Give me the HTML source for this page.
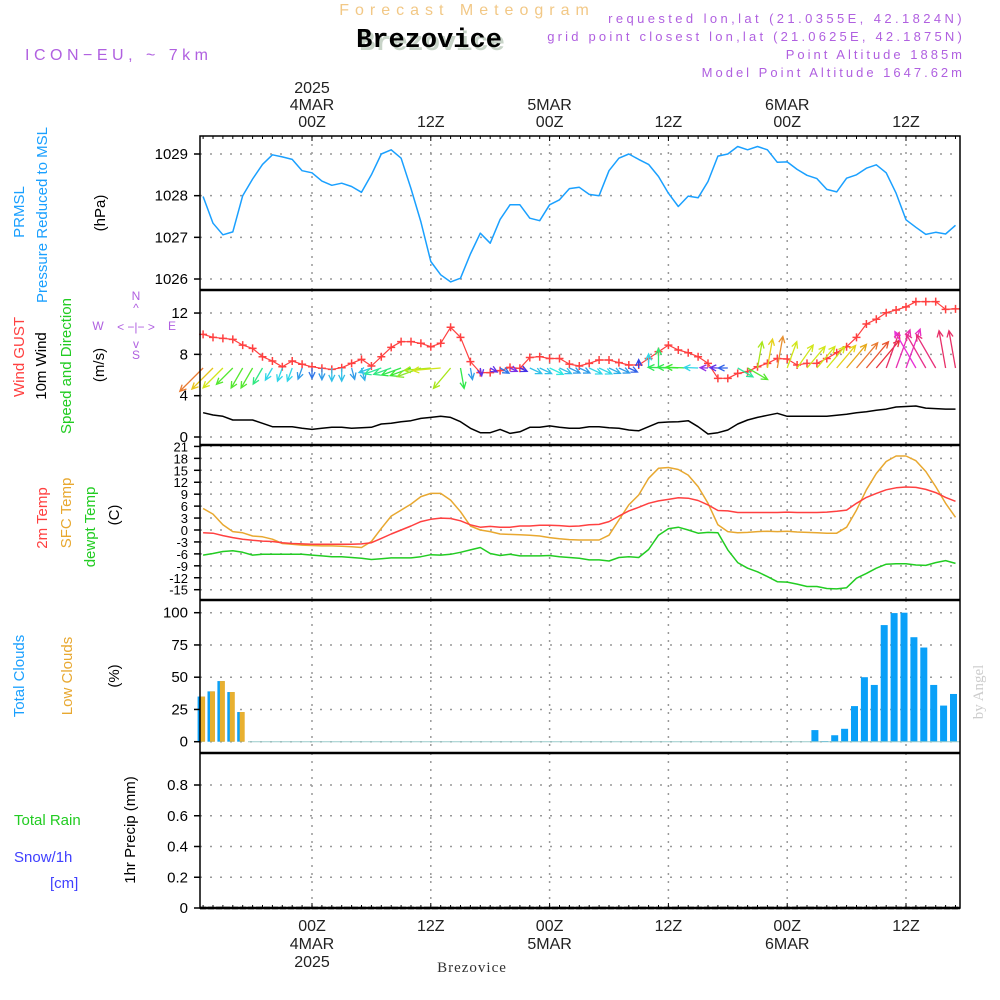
<!DOCTYPE html>
<html><head><meta charset="utf-8"><style>
body{margin:0;background:#fff;width:1000px;height:1000px;overflow:hidden}
svg{display:block;font-family:"Liberation Sans",sans-serif}
</style></head><body>
<svg id="chart" width="1000" height="1000" viewBox="0 0 1000 1000">
<g>
<text x="467" y="15" font-size="16" fill="#f2c886" text-anchor="middle" letter-spacing="6">Forecast Meteogram</text>
<text x="432" y="50" font-size="27" font-weight="bold" font-family="Liberation Mono,monospace" fill="#c8d4c8" text-anchor="middle">Brezovice</text>
<text x="429" y="47" font-size="27" font-weight="bold" font-family="Liberation Mono,monospace" fill="#000" text-anchor="middle">Brezovice</text>
<text x="25" y="60" font-size="16" fill="#b060e0" letter-spacing="4.5">ICON−EU, ~ 7km</text>
<text x="965" y="23" font-size="13" fill="#b060e0" text-anchor="end" letter-spacing="3.4">requested lon,lat (21.0355E, 42.1824N)</text>
<text x="965" y="41" font-size="13" fill="#b060e0" text-anchor="end" letter-spacing="3.2">grid point closest lon,lat (21.0625E, 42.1875N)</text>
<text x="965" y="59" font-size="13" fill="#b060e0" text-anchor="end" letter-spacing="3">Point Altitude 1885m</text>
<text x="965" y="77" font-size="13" fill="#b060e0" text-anchor="end" letter-spacing="3">Model Point Altitude 1647.62m</text>
<text x="472" y="972" font-size="15" font-family="Liberation Serif,serif" fill="#333" text-anchor="middle" letter-spacing="1">Brezovice</text>
<text transform="translate(983,692) rotate(-90)" font-size="15" font-family="Liberation Serif,serif" fill="#ccc" text-anchor="middle">by Angel</text>
</g>
<g id="labels" font-size="15">
<text transform="translate(24,212) rotate(-90)" fill="#1aa0ff" text-anchor="middle">PRMSL</text>
<text transform="translate(47,215) rotate(-90)" fill="#1aa0ff" text-anchor="middle">Pressure Reduced to MSL</text>
<text transform="translate(105,213) rotate(-90)" fill="#000" text-anchor="middle">(hPa)</text>
<text transform="translate(24,357) rotate(-90)" fill="#ff4040" text-anchor="middle">Wind GUST</text>
<text transform="translate(46,366) rotate(-90)" fill="#000" text-anchor="middle">10m Wind</text>
<text transform="translate(71,366) rotate(-90)" fill="#22cc22" text-anchor="middle">Speed and Direction</text>
<text transform="translate(104,365) rotate(-90)" fill="#000" text-anchor="middle">(m/s)</text>
<text transform="translate(47,518) rotate(-90)" fill="#ff4040" text-anchor="middle">2m Temp</text>
<text transform="translate(71,513) rotate(-90)" fill="#e8a830" text-anchor="middle">SFC Temp</text>
<text transform="translate(95,527) rotate(-90)" fill="#22cc22" text-anchor="middle">dewpt Temp</text>
<text transform="translate(119,515) rotate(-90)" fill="#000" text-anchor="middle">(C)</text>
<text transform="translate(24,676) rotate(-90)" fill="#1aa0ff" text-anchor="middle">Total Clouds</text>
<text transform="translate(72,676) rotate(-90)" fill="#e8a830" text-anchor="middle">Low Clouds</text>
<text transform="translate(119,676) rotate(-90)" fill="#000" text-anchor="middle">(%)</text>
<text x="14" y="825" fill="#22cc22">Total  Rain</text>
<text x="14" y="862" fill="#4040ff">Snow/1h</text>
<text x="50" y="888" fill="#4040ff">[cm]</text>
<text transform="translate(135,830) rotate(-90)" fill="#000" text-anchor="middle">1hr Precip (mm)</text>
<g fill="#b060e0" font-size="12" text-anchor="middle">
<text x="136" y="300">N</text><text x="136" y="312">^</text><text x="136" y="331">&lt; −|− &gt;</text><text x="98" y="330">W</text><text x="172" y="330">E</text><text x="136" y="348">v</text><text x="136" y="359">S</text>
</g>
</g>
<g id="grid"></g>
<g id="marks"></g>
<g id="frame"></g>
</svg>
<script>
const hours = [];
for (let h = -11; h <= 65; h++) hours.push(h);
const pressure = [1027.98,1027.34,1027.06,1027.13,1028.0,1028.4,1028.75,1028.98,1028.93,1028.87,1028.6,1028.55,1028.35,1028.25,1028.3,1028.22,1028.08,1028.5,1029.0,1029.1,1028.9,1028.17,1027.37,1026.42,1026.1,1025.93,1026.02,1026.6,1027.1,1026.86,1027.43,1027.78,1027.78,1027.46,1027.4,1027.78,1027.9,1028.17,1028.2,1028.03,
1028.0,1028.6,1028.9,1029.0,1028.87,1028.75,1028.46,1028.06,1027.74,1027.99,1027.95,1028.34,1028.95,1029.0,1029.18,1029.1,1029.18,1029.1,1028.8,1028.81,1028.63,1028.49,1028.41,1028.15,1028.09,1028.42,1028.5,1028.66,1028.74,1028.55,1028.06,1027.42,1027.24,1027.07,1027.12,1027.08,1027.29];
const gust = [9.94,9.65,9.55,9.45,8.9,8.58,7.77,7.36,6.8,7.36,7.04,6.8,6.65,6.55,6.7,7.13,7.52,6.87,7.77,8.68,9.23,9.23,9.07,8.74,9.07,10.62,9.65,7.3,6.23,6.23,6.42,6.74,6.65,7.7,7.77,7.6,7.6,7.06,6.87,7.13,
7.45,7.45,7.2,6.97,6.97,7.6,8.26,8.9,8.42,8.16,7.77,7.13,5.68,5.68,6.16,6.33,6.8,7.13,7.6,7.55,6.97,7.13,7.13,7.6,8.16,8.74,9.65,10.94,11.4,12.03,12.29,12.6,13.1,13.1,13.1,12.36,12.4];
const wind = [2.35,2.13,2.0,1.65,1.65,1.65,1.33,1.0,1.0,1.0,0.84,0.74,0.84,0.94,0.94,0.84,0.9,0.94,1.26,1.33,1.48,1.58,1.8,1.9,2.0,1.9,1.48,0.84,0.42,0.42,0.74,0.35,0.5,0.94,0.94,1.07,0.94,0.84,0.84,1.0,
1.0,0.9,0.84,0.68,0.6,1.0,1.39,1.45,1.48,1.58,1.0,0.29,0.42,0.68,1.26,1.65,1.9,2.1,2.29,2.0,2.0,2.0,2.0,2.0,2.1,2.2,2.35,2.45,2.58,2.7,2.9,2.95,3.0,2.8,2.75,2.7,2.7];
const windDir = [225,225,225,225,210,210,210,210,200,200,200,180,180,180,180,165,165,250,250,250,250,250,250,265,265,220,170,170,170,120,120,115,115,115,115,115,115,115,115,115,115,115,115,115,0,0,0,272,272,272,272,272,272,270,120,120,10,10,10,20,35,40,40,40,40,40,40,40,40,20,20,20,330,330,330,350,350];
const temp2m = [-0.7,-0.8,-1.4,-1.9,-2.3,-2.6,-2.8,-2.9,-3.2,-3.4,-3.5,-3.6,-3.6,-3.6,-3.6,-3.6,-3.5,-3.2,-2.1,-1.0,0,1.0,2.1,2.7,3.0,2.9,2.3,1.3,0.7,0.9,0.7,0.7,1.0,1.0,1.2,1.2,1.1,0.9,1.0,1.3,
1.4,2.1,3.5,4.8,5.7,6.7,7.3,7.7,8.1,8.0,7.4,6.3,4.9,4.8,4.4,4.4,4.4,4.4,4.4,4.5,4.4,4.4,4.4,4.5,4.7,5.0,6.7,8.2,9.2,10.1,10.6,10.8,10.7,10.2,9.4,8.2,7.2];
const sfcTemp = [5.4,4.0,1.3,-0.4,-0.7,-1.5,-1.7,-2.3,-3.4,-3.6,-3.8,-3.9,-4.0,-4.0,-4.1,-4.2,-4.4,-2.9,0.4,3.5,5.0,6.5,8.4,9.2,9.2,7.5,4.6,1.0,0,-0.4,-1.0,-1.1,-1.2,-1.3,-1.5,-1.9,-2.2,-2.4,-2.5,-2.5,
-2.5,-1.3,2.5,6.3,8.8,13.0,15.5,15.7,15.2,13.8,10.9,6.7,1.3,-0.4,-0.7,-0.6,-0.4,-0.3,-0.4,-0.3,-0.5,-0.6,-0.7,-0.8,-0.8,0.7,5.0,10.1,14.2,17.2,18.6,18.6,17.4,14.7,10.9,6.7,3.2];
const dewpt = [-6.3,-5.9,-5.4,-5.2,-5.6,-6.3,-6.1,-6.1,-6.1,-6.1,-6.1,-6.3,-6.5,-6.7,-6.7,-6.9,-7.1,-7.4,-7.2,-7.0,-7.0,-7.0,-6.7,-6.2,-6.3,-6.1,-5.6,-5.0,-4.4,-5.9,-6.4,-6.1,-6.5,-6.5,-6.5,-6.4,-6.7,-6.9,-7.1,-7.5,
-7.5,-7.8,-6.9,-6.7,-6.9,-4.9,-1.3,0.3,0.7,0,-0.8,-0.6,-0.7,-5.0,-8.2,-9.6,-10.5,-11.7,-13.0,-13.1,-13.6,-14.2,-14.2,-14.7,-14.8,-14.5,-12.1,-10.9,-9.6,-8.6,-8.5,-8.5,-8.8,-8.9,-8.2,-7.7,-8.4];
const cloudHours = [-11,-10,-9,-8,-7,51,52,53,54,55,56,57,58,59,60,61,62,63,64,65];
const totalClouds = [35,39,47,38.5,23,9,0.5,5,10,27.6,50,44,90.4,99.7,100,81,73,44,28,37];
const lowClouds = [35,39,47,38.5,23,0,0,0,0,0,0,0,0,0,0,0,0,0,0,0];
const precip = new Array(77).fill(0);
const pTicks = [1026,1027,1028,1029];
const wTicks = [0,4,8,12];
const tTicks = [-15,-12,-9,-6,-3,0,3,6,9,12,15,18,21];
const cTicks = [0,25,50,75,100];
const rTicks = [0,0.2,0.4,0.6,0.8];
const rLabels = ["0","0.2","0.4","0.6","0.8"];
const dayHours = [0,24,48];
const dayLabels = ["4MAR","5MAR","6MAR"];

const NS='http://www.w3.org/2000/svg';
const L=200,R=960;
const xS=h=>312+h*9.9;
const yP=v=>154+(1029-v)*41.67;
const yW=v=>437-v*10.33;
const yT=v=>530-v*3.98;
const yC=v=>741.7-v*1.29;
const yR=v=>908-v*153.75;
const grid=document.getElementById('grid'),marks=document.getElementById('marks'),frame=document.getElementById('frame');
function el(tag,attrs,parent){const e=document.createElementNS(NS,tag);for(const k in attrs)e.setAttribute(k,attrs[k]);parent.appendChild(e);return e;}
function txt(s,attrs,parent){const e=el('text',attrs,parent);e.textContent=s;return e;}

const panels=[{t:136,b:290,ticks:pTicks,y:yP,lab:v=>String(v),name:'pressure'},
{t:290,b:445,ticks:wTicks,y:yW,lab:v=>String(v),name:'wind'},
{t:445,b:600,ticks:tTicks,y:yT,lab:v=>String(v),name:'temp'},
{t:600,b:753,ticks:cTicks,y:yC,lab:v=>String(v),name:'clouds'},
{t:753,b:908,ticks:rTicks,y:yR,lab:(v,i)=>rLabels[i],name:'precip'}];
panels.forEach(p=>{
 p.ticks.forEach((v,i)=>{
  const y=p.y(v);
  const g=el('line',{x1:L,x2:R,y1:y,y2:y,stroke:'#999','stroke-dasharray':'2 8','stroke-width':1.5},grid);
  
  
  el('line',{x1:L-6,x2:L,y1:y,y2:y,stroke:'#000','stroke-width':1.5},frame);
  const t=txt(p.lab(v,i),{x:L-12,y:y+5,'font-size':p.name==='temp'?13:15,'text-anchor':'end',fill:'#000'},frame);
  
  
 });
 for(let h=0;h<=60;h+=12){
  const x=xS(h);
  const g=el('line',{x1:x,x2:x,y1:p.t,y2:p.b,stroke:'#999','stroke-dasharray':'2 6','stroke-width':1.5},grid);
  
  
 }
});
el('rect',{x:L,y:136,width:R-L,height:772,fill:'none',stroke:'#000','stroke-width':1.5},frame);
[290,445,600,753,908].forEach(y=>el('line',{x1:L,x2:R,y1:y,y2:y,stroke:'#000','stroke-width':2.5},frame));
for(let h=-11;h<=65;h++){const x=xS(h);const big=h%12===0;
 el('line',{x1:x,x2:x,y1:136,y2:136+(big?5:3),stroke:'#000'},frame);
 el('line',{x1:x,x2:x,y1:908,y2:908-(big?5:3),stroke:'#000'},frame);}
for(let h=0;h<=60;h+=12){const x=xS(h);const lab=(h%24===0)?'00Z':'12Z';
 const a=txt(lab,{x:x,y:127,'font-size':16,'text-anchor':'middle',fill:'#222'},frame);
 
 
 const b=txt(lab,{x:x,y:931,'font-size':16,'text-anchor':'middle',fill:'#222'},frame);
 
 }
dayHours.forEach((h,i)=>{const x=xS(h);
 const a=txt(dayLabels[i],{x:x,y:110,'font-size':16,'text-anchor':'middle',fill:'#222'},frame);
 
 
 const b=txt(dayLabels[i],{x:x,y:949,'font-size':16,'text-anchor':'middle',fill:'#222'},frame);
 
 });
const y1=txt('2025',{x:xS(0),y:93,'font-size':16,'text-anchor':'middle',fill:'#222'},frame);


const y2=txt('2025',{x:xS(0),y:967,'font-size':16,'text-anchor':'middle',fill:'#222'},frame);



function line(vals,yf,color,name,w){
 const d=vals.map((v,i)=>(i?'L':'M')+xS(hours[i]).toFixed(1)+','+yf(v).toFixed(1)).join('');
 const p=el('path',{d:d,fill:'none',stroke:color,'stroke-width':w||1.5,'stroke-linejoin':'round'},marks);
 
 
 return p;}
line(pressure,yP,'#1aa0ff','pressure-line');
line(wind,yW,'#000','wind-speed-line');
line(gust,yW,'#ff4040','gust-line',1.2);
gust.forEach((v,i)=>{const x=xS(hours[i]),y=yW(v);
 const m=el('path',{d:`M${x-4},${y}H${x+4}M${x},${y-4}V${y+4}`,stroke:'#ff4040','stroke-width':1.5},marks);
 
 });
wind.forEach((s,i)=>{
 const x=xS(hours[i]),y=368;
 const a=windDir[i]*Math.PI/180,len=Math.max(8,s*14);
 const x2=x+Math.sin(a)*len,y2=y-Math.cos(a)*len;
 let hue=270-(s-0.3)*120; if(hue<0)hue+=360;
 const c=`hsl(${hue},80%,${hue>40&&hue<90?50:55}%)`;
 const b1=a+Math.PI-0.45,b2=a+Math.PI+0.45;
 const d=`M${x},${y}L${x2},${y2}M${x2+Math.sin(b1)*7},${y2-Math.cos(b1)*7}L${x2},${y2}L${x2+Math.sin(b2)*7},${y2-Math.cos(b2)*7}`;
 const p=el('path',{d:d,fill:'none',stroke:c,'stroke-width':1.3},marks);
 
 });
line(sfcTemp,yT,'#e8a830','sfc-temp-line');
line(temp2m,yT,'#ff4040','temp-2m-line');
line(dewpt,yT,'#22cc22','dewpoint-line');
cloudHours.forEach((h,i)=>{const x=xS(h)-2;
 const tv=totalClouds[i],lv=lowClouds[i];
 const b=el('rect',{x:x-3.5,y:yC(tv),width:7,height:yC(0)-yC(tv),fill:'#0aa0f8'},marks);
 
 
 if(lv>0){const o=el('rect',{x:x-1,y:yC(lv),width:5,height:yC(0)-yC(lv),fill:'#e8b030'},marks);
 
 }});
el('line',{x1:248,x2:R,y1:yC(0),y2:yC(0),stroke:'#9cc',"stroke-width":1},marks);
line(precip,yR,'#22cc22','precip-line',1);
el('line',{x1:L,x2:R,y1:908,y2:908,stroke:'#000','stroke-width':2.5,'stroke-dasharray':'6 2'},frame);
</script>
</body></html>
